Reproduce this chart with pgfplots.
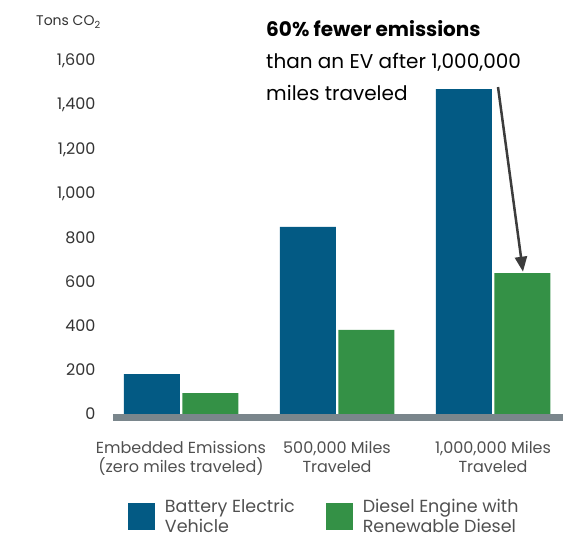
\documentclass[border=0pt]{standalone}
\usepackage{fontspec}
\setmainfont{Poppins}
\usepackage{pgfplots}
\pgfplotsset{compat=1.18}
\usetikzlibrary{arrows.meta}
\definecolor{bev}{RGB}{3,90,132}
\definecolor{rd}{RGB}{52,145,70}
\definecolor{axgray}{RGB}{122,134,140}
\definecolor{txt}{RGB}{51,51,51}
\definecolor{cat}{RGB}{80,80,80}
\definecolor{arr}{RGB}{60,60,60}
\begin{document}
\begin{tikzpicture}
\begin{axis}[
  x=156bp, y=0.2206bp,
  xmin=-0.436, xmax=2.449,
  ymin=-16, ymax=1700,
  enlargelimits=false,
  clip=false,
  ybar=2.5bp, bar width=56bp,
  axis line style={draw=none},
  tick style={draw=none},
  major tick length=0pt,
  scaled y ticks=false,
  ytick={0,200,...,1600},
  yticklabel style={/pgf/number format/.cd, 1000 sep={,}, assume math mode=true, /tikz/.cd, font=\fontsize{16bp}{19bp}\selectfont, text=txt, xshift=-14bp},
  xtick={0,1,2},
  xticklabels={{Embedded Emissions\\(zero miles traveled)},{500,000 Miles\\Traveled},{1,000,000 Miles\\Traveled}},
  xticklabel style={align=center, font=\fontsize{16bp}{19bp}\selectfont, text=cat, yshift=-20bp},
  legend columns=2,
  legend image code/.code={\fill[#1] (0bp,-13bp) rectangle (27bp,14bp);},
  legend style={draw=none, fill=none, inner sep=0pt, outer sep=0pt,
    at={(0.0333,-0.216)}, anchor=north west,
    nodes={inner sep=0pt, outer sep=0pt},
    /tikz/every odd column/.append style={column sep=10bp},
    /tikz/every even column/.append style={column sep=31bp},
    cells={align=left}, font=\fontsize{17.5bp}{20bp}\selectfont, text=cat},
]
\addplot[fill=bev, draw=none] coordinates {(0,181) (1,848) (2,1473)};
\addplot[fill=rd, draw=none] coordinates {(0,95) (1,381) (2,639)};
\legend{{Battery Electric\\Vehicle},{Diesel Engine with\\Renewable Diesel}}
\draw[axgray, line width=7bp] (rel axis cs:0,0) -- (rel axis cs:1,0);
\node[anchor=base west, inner sep=0pt, text=txt, font=\fontsize{14bp}{16bp}\selectfont] at (axis cs:-0.9295,1759) {Tons CO\textsubscript{2}};
\node[anchor=base west, inner sep=0pt, font=\fontsize{20bp}{24bp}\selectfont\bfseries] at (axis cs:0.545,1709) {60\% fewer emissions};
\node[anchor=base west, inner sep=0pt, font=\fontsize{20bp}{24bp}\selectfont] at (axis cs:0.545,1564) {than an EV after 1,000,000};
\node[anchor=base west, inner sep=0pt, font=\fontsize{20bp}{24bp}\selectfont] at (axis cs:0.545,1419) {miles traveled};
\draw[arr, line width=2.5bp, -{Triangle[width=12bp,length=15bp]}] (axis cs:2.032,1482) -- (axis cs:2.192,645);
\path (axis cs:-1.1603,1876.7) rectangle (axis cs:2.487,-553);
\end{axis}
\end{tikzpicture}
\end{document}
